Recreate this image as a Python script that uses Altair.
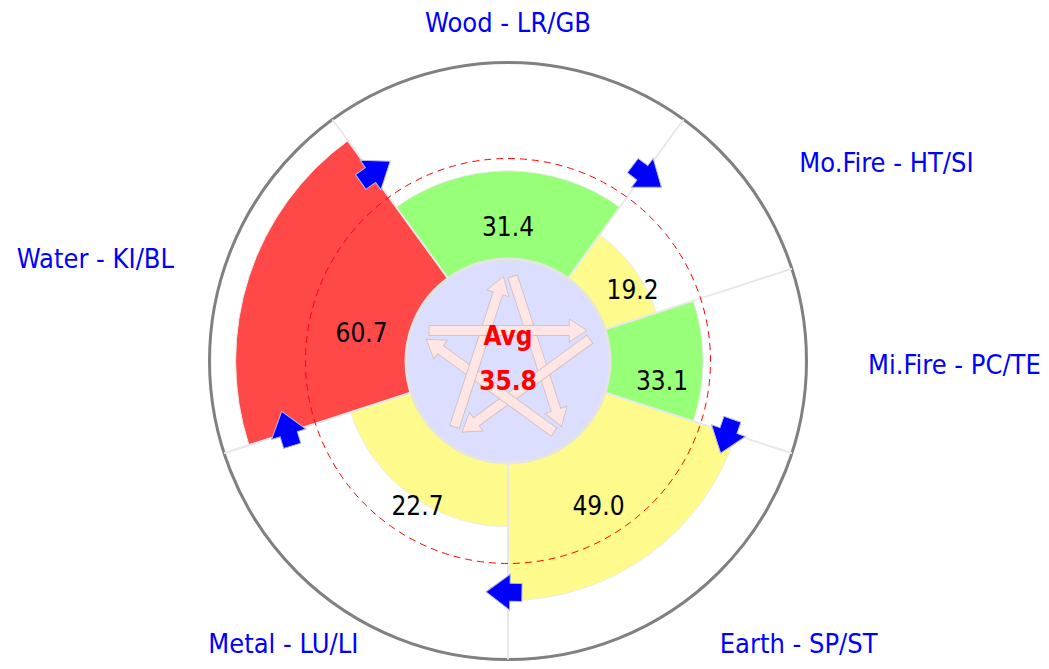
import math
import altair as alt
import pandas as pd

# ---------------- data ----------------
categories = ["Wood - LR/GB", "Mo.Fire - HT/SI", "Mi.Fire - PC/TE",
              "Earth - SP/ST", "Metal - LU/LI", "Water - KI/BL"]
elements = ["Wood", "Fire", "Fire", "Earth", "Metal", "Water"]
values = [31.4, 19.2, 33.1, 49.0, 22.7, 60.7]
spans = [72, 36, 36, 72, 72, 72]          # angular width of each sector (deg)
average = 35.8
avg_label = "Avg"
element_order = ["Wood", "Fire", "Earth", "Metal", "Water"]

# ---------------- styles / layout ----------------
colors = ["#98ff78", "#fffa8c", "#98ff78", "#fffa8c", "#fffa8c", "#ff4848"]
label_align = {"Wood - LR/GB": "center", "Mo.Fire - HT/SI": "left",
               "Mi.Fire - PC/TE": "left", "Earth - SP/ST": "left",
               "Metal - LU/LI": "metal", "Water - KI/BL": "right"}

W, H = 1033, 653
CX, CY = 500.0, 353.0
R_MIN, R_MAX = 102.0, 298.5
V_MAX = 70.0
START_DEG = -36.0
FONT = "DejaVu Sans Condensed"
TWO_PI = 2 * math.pi
LBL_R, LBL_SX, LBL_DROP = 344.6, 1.045, 5.3


def rpx(v):
    return R_MIN + (R_MAX - R_MIN) * v / V_MAX


t0 = []
acc = START_DEG
for s in spans:
    t0.append(acc)
    acc += s
t1 = [a + s for a, s in zip(t0, spans)]

df = pd.DataFrame({
    "category": categories, "element": elements, "value": values,
    "t0": t0, "t1": t1, "tc": [(a + b) / 2 for a, b in zip(t0, t1)],
    "zero": 0.0,
})
df["align"] = df["category"].map(label_align)
df["lx"] = [LBL_SX * LBL_R * math.sin(math.radians(a)) for a in df["tc"]]
df["ly"] = [LBL_R * math.cos(math.radians(a)) - LBL_DROP for a in df["tc"]]

spk = pd.DataFrame({"a": t0})
spk["x"] = 0.0
spk["y"] = 0.0
spk["x2"] = [R_MAX * math.sin(math.radians(a)) for a in t0]
spk["y2"] = [R_MAX * math.cos(math.radians(a)) for a in t0]

el = (df.groupby("element", sort=False)
        .agg(start=("t0", "min"), end=("t1", "max"))
        .reindex(element_order))
el["center"] = (el["start"] + el["end"]) / 2

# blue arrows (generating cycle) on element boundaries
ba = pd.DataFrame({"a": el["start"].values + 1.0})
r_ba = rpx(46)
ba["x"] = [r_ba * math.sin(math.radians(a)) for a in ba["a"]]
ba["y"] = [r_ba * math.cos(math.radians(a)) for a in ba["a"]]
ba["rot"] = ba["a"] + 90

# pentagram arrows (controlling cycle)
sa = pd.DataFrame({"m": el["center"].values + 72.0})
r_sa = 30.5
sa["x"] = [r_sa * math.sin(math.radians(a)) for a in sa["m"]]
sa["y"] = [r_sa * math.cos(math.radians(a)) for a in sa["m"]]
sa["rot"] = sa["m"] + 90

one = pd.DataFrame({"outer": [V_MAX], "zero": [0.0], "avg": [average],
                    "t": [avg_label], "avgtxt": [f"{average:.1f}"]})

# ---------------- scales ----------------
theta_sc = alt.Scale(domain=[0, 360], range=[0, TWO_PI])
rad_sc = alt.Scale(type="linear", domain=[0, V_MAX], range=[R_MIN, R_MAX], zero=False)
x_sc = alt.Scale(domain=[-CX, W - CX], nice=False, zero=False)
y_sc = alt.Scale(domain=[-(H - CY), CY], nice=False, zero=False)
ctr = dict(x=alt.value(CX), y=alt.value(CY))


def ring(field):
    return alt.Radius(f"{field}:Q", scale=rad_sc, stack=False)


outer = alt.Chart(one).mark_arc(filled=False, stroke="#808080", strokeWidth=3,
                                theta=0, theta2=TWO_PI).encode(
    radius=ring("outer"), radius2=alt.value(0), **ctr)

sectors = alt.Chart(df).mark_arc(stroke="#ececec", strokeWidth=1).encode(
    theta=alt.Theta("t0:Q", scale=theta_sc, stack=False),
    theta2="t1:Q",
    radius=ring("value"),
    radius2="zero:Q",
    color=alt.Color("category:N", scale=alt.Scale(domain=categories, range=colors),
                    legend=None),
    **ctr)

spokes = alt.Chart(spk).mark_rule(color="#e8e8e8", strokeWidth=2).encode(
    x=alt.X("x:Q", scale=x_sc, axis=None), y=alt.Y("y:Q", scale=y_sc, axis=None),
    x2="x2:Q", y2="y2:Q")

inner = alt.Chart(one).mark_arc(fill="#dcdeff", stroke="#e4e4e4", strokeWidth=3,
                                theta=0, theta2=TWO_PI).encode(
    radius=ring("zero"), radius2=alt.value(0), **ctr)

dashed = alt.Chart(one).mark_arc(filled=False, stroke="#ff0000", strokeWidth=1,
                                 strokeDash=[7, 5], theta=0, theta2=TWO_PI).encode(
    radius=ring("avg"), radius2=alt.value(0), **ctr)

STAR_PATH = ("M0,-1L0.146,-0.776L0.063,-0.776L0.063,1L-0.063,1L-0.063,-0.776"
             "L-0.146,-0.776Z")
star = alt.Chart(sa).mark_point(shape=STAR_PATH, size=158 ** 2, filled=True,
                                fill="#ffe6e4", stroke="#d2c4c4", strokeWidth=1,
                                opacity=1).encode(
    x=alt.X("x:Q", scale=x_sc, axis=None), y=alt.Y("y:Q", scale=y_sc, axis=None),
    angle=alt.Angle("rot:Q", scale=None))

avg_t = alt.Chart(one).mark_text(font=FONT, fontSize=26, fontWeight="bold",
                                 color="#ff0000", dy=-24).encode(
    text="t:N", **ctr)
avg_v = alt.Chart(one).mark_text(font=FONT, fontSize=26, fontWeight="bold",
                                 color="#ff0000", dy=21).encode(
    text="avgtxt:N", **ctr)

vlabels = alt.Chart(df).mark_text(font=FONT, fontSize=26, color="#000000",
                                  radius=154, dy=21).encode(
    theta=alt.Theta("tc:Q", scale=theta_sc, stack=False),
    text=alt.Text("value:Q", format=".1f"), **ctr)


def cat_layer(key, align, dx, dy=0):
    return alt.Chart(df).transform_filter(alt.datum.align == key).mark_text(
        font=FONT, fontSize=27, color="#0000ff", align=align, dx=dx, dy=dy,
        baseline="middle").encode(
        x=alt.X("lx:Q", scale=x_sc, axis=None),
        y=alt.Y("ly:Q", scale=y_sc, axis=None),
        text="category:N")


clabels = [cat_layer("center", "center", 0, 2.5), cat_layer("left", "left", 0),
           cat_layer("right", "right", 8.5), cat_layer("metal", "center", -13)]

BLUE_PATH = "M0,-1L1,0.333L0.5,0.333L0.5,1L-0.5,1L-0.5,0.333L-1,0.333Z"
blue = alt.Chart(ba).mark_point(shape=BLUE_PATH, size=36 ** 2, filled=True,
                                fill="#0000ff", stroke="#b8b8e0", strokeWidth=1,
                                opacity=1).encode(
    x=alt.X("x:Q", scale=x_sc, axis=None), y=alt.Y("y:Q", scale=y_sc, axis=None),
    angle=alt.Angle("rot:Q", scale=None))

chart = alt.layer(outer, sectors, spokes, inner, dashed, star, avg_t, avg_v,
                  vlabels, *clabels, blue).properties(
    width=W, height=H, padding=0, autosize="none"
).configure_view(strokeWidth=0)

chart.save("out.html", embed_options={"renderer": "svg", "actions": False})
